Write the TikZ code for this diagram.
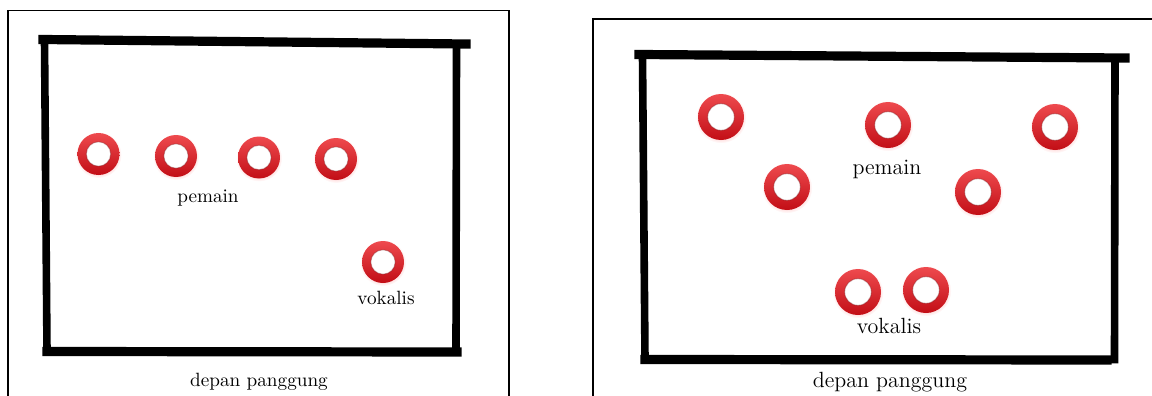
\documentclass[tikz,border=0pt]{standalone}
\usepackage{xcolor}
\usepackage{tikz}
\usetikzlibrary{shadows}

\definecolor{ringtop}{RGB}{238,74,78}
\definecolor{ringbot}{RGB}{194,14,22}

\begin{document}
\begin{tikzpicture}[
	x=0.5pt, y=-0.5pt,
	% Styles
	frame/.style={draw=black, line width=0.8pt},
	stage/.style={draw=black, line width=4.6pt, line cap=rect},
	post/.style={draw=black, line width=3.8pt, line cap=rect},
	ring/.style={
		circle, inner sep=0pt, minimum size=2*#1,
		circular drop shadow={shadow xshift=0pt, shadow yshift=-0.4pt,
			shadow scale=1.1, fill=red!45, opacity=0.25},
		path picture={
			\shade[top color=ringtop, bottom color=ringbot]
			(path picture bounding box.south west) rectangle (path picture bounding box.north east);
			\fill[white] (path picture bounding box.center) circle[radius=0.58*#1];
			\draw[ringbot!60!black, opacity=0.35, line width=0.5pt]
			(path picture bounding box.center) circle[radius=0.58*#1];
		}
	},
	lbl/.style={inner sep=0pt, font=\fontsize{9.6}{11}\selectfont},
	lblr/.style={inner sep=0pt, font=\fontsize{11}{13}\selectfont}
	]
	
	\useasboundingbox (0,0) rectangle (1152,396);
	
	%% ─── LEFT PANEL ───────────────────────────────────────────
	\draw[frame] (8,396) -- (8,10.5) -- (509,10.5) -- (509,396);
	
	% stage
	\draw[stage] (43,39.5) -- (466,44);
	\draw[post] (44.5,40) -- (47,351);
	\draw[post] (456.5,44) -- (456,352);
	\draw[stage] (47,351.5) -- (457,352);
	
	% players
	\node[ring=10.5pt] (l1) at (98.5,154) {};
	\node[ring=10.5pt] (l2) at (176,156) {};
	\node[ring=10.5pt] (l3) at (259,157.5) {};
	\node[ring=10.5pt] (l4) at (336,159) {};
	\node[lbl] (lpem) at (208,198) {pemain};
	
	% singer
	\node[ring=10.5pt] (lv) at (383,262) {};
	\node[lbl] (lvok) at (386,298) {vokalis};
	
	\node[lbl] (ldep) at (259,382) {depan panggung};
	
	%% ─── RIGHT PANEL ──────────────────────────────────────────
	\draw[frame] (593,396) -- (593,19) -- (1152,19);
	
	% stage
	\draw[stage] (639,54.5) -- (1125,58);
	\draw[post] (642.5,56) -- (645,359);
	\draw[post] (1115,58) -- (1114.5,359.5);
	\draw[stage] (645,359.5) -- (1107,360);
	
	% players
	\node[ring=11.5pt] (r1) at (721,117) {};
	\node[ring=11.5pt] (r2) at (888,125) {};
	\node[ring=11.5pt] (r3) at (1055,127) {};
	\node[ring=11.5pt] (r4) at (787,187) {};
	\node[ring=11.5pt] (r5) at (978,192) {};
	\node[lblr] (rpem) at (887,169) {pemain};
	
	% singers
	\node[ring=11.5pt] (rv1) at (858,292) {};
	\node[ring=11.5pt] (rv2) at (926,290) {};
	\node[lblr] (rvok) at (889,326) {vokalis};
	
	\node[lblr] (rdep) at (890,382) {depan panggung};
	
\end{tikzpicture}
\end{document}
